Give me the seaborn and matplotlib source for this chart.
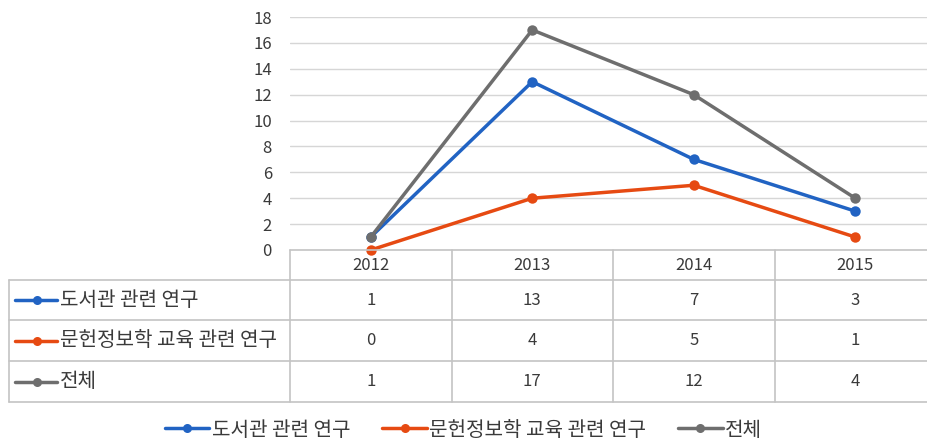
import numpy as np
import pandas as pd
import seaborn as sns
import matplotlib
matplotlib.use('Agg')
import matplotlib.pyplot as plt
from matplotlib.lines import Line2D

#%% Data
years = ['2012', '2013', '2014', '2015']
series_names = ['도서관 관련 연구', '문헌정보학 교육 관련 연구', '전체']
library_research = [1, 13, 7, 3]
lis_education_research = [0, 4, 5, 1]
total = [1, 17, 12, 4]
colors = ['#2163C3', '#E64A12', '#6E6E6E']
y_ticks = list(range(0, 19, 2))

values = [library_research, lis_education_research, total]
df = pd.DataFrame({
    'pos': np.tile(np.arange(len(years)), len(series_names)),
    'year': years * len(series_names),
    'series': np.repeat(series_names, len(years)),
    'count': np.concatenate(values),
})

#%% Style
sns.set_style('white')
plt.rcParams['font.family'] = ['Noto Sans CJK KR', 'DejaVu Sans']
txt_color = '#3a3a3a'
grid_color = '#d6d6d6'
tab_color = '#c4c4c4'
fs = 12        # digits
fs_kr = 14.5   # korean labels

W, H = 927, 443
fig = plt.figure(figsize=(W / 100, H / 100), dpi=100)

# layout in pixels
plot_left, plot_top, plot_bottom, right_px = 290, 17, 250, 936
col_w = (right_px - plot_left) / len(years)
ax = fig.add_axes([plot_left / W, 1 - plot_bottom / H,
                   (right_px - plot_left) / W, (plot_bottom - plot_top) / H])

sns.lineplot(data=df, x='pos', y='count', hue='series', palette=colors,
             hue_order=series_names, marker='o', markersize=7.5, markeredgewidth=0,
             linewidth=2.5, ax=ax, legend=False, clip_on=False, zorder=5)
ax.set_xlim(-0.5, len(years) - 0.5)
ax.set_ylim(0, 18)
ax.set_yticks(y_ticks)
ax.set_xticks([])
ax.set_xlabel('')
ax.set_ylabel('')
ax.grid(axis='y', color=grid_color, linewidth=1)
ax.set_axisbelow(True)
for s in ax.spines.values():
    s.set_visible(False)
ax.tick_params(axis='y', length=0, pad=13, labelsize=fs, labelcolor=txt_color)

#%% Data table below the plot
tab_left, tab_bottom = 9, 402
row_edges = [250, 280, 320, 361, 402]
tax = fig.add_axes([tab_left / W, 1 - tab_bottom / H,
                    (right_px - tab_left) / W, (tab_bottom - plot_bottom) / H])
u_left = -0.5 - (plot_left - tab_left) / col_w
tax.set_xlim(u_left, len(years) - 0.5)
tax.set_ylim(tab_bottom, plot_bottom)
tax.axis('off')

def px2u(px):
    return -0.5 + (px - plot_left) / col_w

# horizontal lines
tax.plot([-0.5, len(years) - 0.5], [row_edges[0]] * 2, color=tab_color, lw=1.2, clip_on=False)
for y in row_edges[1:]:
    tax.plot([u_left, len(years) - 0.5], [y, y], color=tab_color, lw=1.2, clip_on=False)
# vertical lines
tax.plot([u_left, u_left], [row_edges[1], row_edges[-1]], color=tab_color, lw=1.2, clip_on=False)
for i in range(len(years) + 1):
    tax.plot([i - 0.5, i - 0.5], [row_edges[0], row_edges[-1]], color=tab_color, lw=1.2, clip_on=False)

# header
for i, yr in enumerate(years):
    tax.text(i, (row_edges[0] + row_edges[1]) / 2, yr, ha='center', va='center',
             fontsize=fs, color=txt_color)
# rows
for r, (name, vals, c) in enumerate(zip(series_names, values, colors)):
    yc = (row_edges[r + 1] + row_edges[r + 2]) / 2
    tax.plot([px2u(15), px2u(57)], [yc, yc], color=c, lw=2.5, clip_on=False)
    tax.plot([px2u(37)], [yc], marker='o', markersize=6.5, color=c, mew=0, clip_on=False)
    tax.text(px2u(60), yc, name, ha='left', va='center', fontsize=fs_kr, color=txt_color)
    for i, v in enumerate(vals):
        tax.text(i, yc, str(v), ha='center', va='center', fontsize=fs, color=txt_color)

#%% Legend at the bottom
handles = [Line2D([], [], color=c, lw=2.5, marker='o', markersize=6.5, mew=0) for c in colors]
fig.legend(handles, series_names, loc='center', bbox_to_anchor=(0.5, 1 - 430 / H),
           ncol=3, frameon=False, fontsize=fs_kr, handlelength=2.2, handletextpad=0.12,
           columnspacing=1.6, labelcolor=txt_color)

fig.savefig('out.png', dpi=100)
